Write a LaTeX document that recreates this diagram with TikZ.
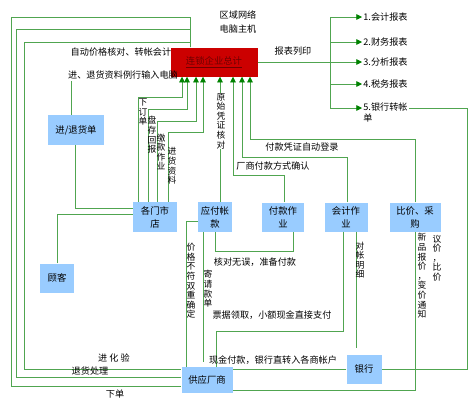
\documentclass[tikz,border=0pt]{standalone}
\usepackage{fontspec}
\setmainfont{Noto Sans CJK SC}
\usetikzlibrary{arrows.meta}

\definecolor{linegreen}{RGB}{80,165,80}
\definecolor{tipgreen}{RGB}{0,130,0}
\definecolor{boxblue}{RGB}{153,204,255}
\definecolor{hqred}{RGB}{204,0,0}
\definecolor{hqtext}{RGB}{110,0,0}

\begin{document}
\begin{tikzpicture}[x=0.3mm, y=-0.3mm,
  font=\fontsize{7.8}{9.5}\selectfont,
  line/.style={draw=linegreen, line width=0.6pt},
  arr/.style={line, -{Triangle[length=1.7mm, width=1.7mm, color=tipgreen]}},
  box/.style={fill=boxblue, align=center, inner sep=1pt, font=\fontsize{8}{11}\selectfont},
  lab/.style={inner sep=1pt},
  vlab/.style={align=center, inner sep=0.5pt, font=\fontsize{7.5}{8.2}\selectfont},
  rep/.style={anchor=west, inner sep=1pt}]
\useasboundingbox (0,0) rectangle (474,402);

% main computer
\node[fill=hqred, text=hqtext, minimum width=26.1mm, minimum height=8.7mm, font=\fontsize{8}{10}\selectfont] (hq) at (214,62) {\underline{连锁企业总计}};
\node[align=left, inner sep=0pt, font=\fontsize{7.8}{12}\selectfont] (net) at (238,22) {区域网络\\电脑主机};

% boxes
\node[box, minimum width=16.8mm, minimum height=9mm] (order) at (76,130) {进/退货单};
\node[box, minimum width=13.2mm, minimum height=9mm] (stores) at (155,217) {各门市\\店};
\node[box, minimum width=10.2mm, minimum height=8.7mm] (customer) at (57,278) {顾客};
\node[box, minimum width=10.2mm, minimum height=9mm] (payable) at (215,217) {应付帐\\款};
\node[box, minimum width=12.6mm, minimum height=8.7mm] (paywork) at (283,217) {付款作\\业};
\node[box, minimum width=12.9mm, minimum height=8.7mm] (acct) at (346,217) {会计作\\业};
\node[box, minimum width=15.3mm, minimum height=8.7mm] (buy) at (415,217) {比价、采\\购};
\node[box, minimum width=15.3mm, minimum height=7.8mm] (supplier) at (207,380) {供应厂商};
\node[box, minimum width=10.5mm, minimum height=8.7mm] (bank) at (364,369) {银行};

% reports
\node[rep] (r1) at (362,17) {1.会计报表};
\node[rep] (r2) at (362,42) {2.财务报表};
\node[rep] (r3) at (362,62) {3.分析报表};
\node[rep] (r4) at (362,84) {4.税务报表};
\node[rep, anchor=north west, align=left] (r5) at (362,101) {5.银行转帐\\单};
\node[lab] (print) at (293,51) {报表列印};
\coordinate (bt) at (330,17);
\coordinate (bb) at (330,108);
\draw[line] (bt) -- (bb);
\draw[arr] (hq.east) -- (r3.west);
\foreach \r in {r1,r2,r4}
  \draw[arr] (bt |- \r.west) -- (\r.west);
\draw[arr] (bb) -- (bb -| r5.west);
\draw[line] (r5.east |- bb) -- (467,108) |- (bank.east);

% left loops
\coordinate (c190) at (190,0);
\draw[line] (hq.north -| c190) |- (24,42) |- ([yshift=3.3mm]supplier.west);
\draw[line] (hq.north -| c190) |- (16,29) |- ([yshift=0.9mm]supplier.west);
\draw[line] (hq.north -| c190) |- (11,17) |- ([yshift=-1.8mm]supplier.west);
\node[lab] (auto) at (121,52) {自动价格核对、转帐会计};
\node[lab] (input) at (123,75) {进、退货资料例行输入电脑};
\node[lab] (check) at (114,358) {进 化 验};
\node[lab] (ret) at (90,371) {退货处理};
\node[lab] (place) at (115,394) {下单};

% order form, stores, customer
\draw[line] (71,0 |- order.north) -- (71,0 |- input.south);
\draw[line] (75,0 |- order.south) |- ([yshift=2.7mm]stores.west);
\draw[line] (customer.north) |- ([yshift=0.9mm]stores.west);

% inputs to main computer
\draw[arr] (138,0 |- stores.north) |- (182,97) -- (182,0 |- hq.south);
\draw[arr] (148,0 |- stores.north) |- (187,109) -- (187,0 |- hq.south);
\draw[arr] (157,0 |- stores.north) |- (196,121) -- (196,0 |- hq.south);
\draw[arr] (168,0 |- stores.north) |- (203,132) -- (203,0 |- hq.south);
\draw[arr] (220,0 |- payable.north) -- (220,0 |- hq.south);
\draw[arr] (284,0 |- paywork.north) |- (233,175) -- (233,0 |- hq.south);
\draw[arr] (347,0 |- acct.north) |- (242,157) -- (242,0 |- hq.south);
\draw[arr] (buy.north) |- (250,139) -- (250,0 |- hq.south);
\node[vlab] (l1) at (143,112) {下\\订\\单};
\node[vlab] (l2) at (152,135) {盘\\存\\回\\报};
\node[vlab] (l3) at (161,152) {缴\\款\\作\\业};
\node[vlab] (l4) at (172,166) {进\\货\\资\\料};
\node[vlab, fill=white] (l5) at (221,121) {原\\始\\凭\\证\\核\\对};
\node[lab] (l6) at (273,166) {厂商付款方式确认};
\node[lab] (l7) at (302,147) {付款凭证自动登录};

% payables and payments
\draw[line] (payable.south) |- (293,251) -- (293,0 |- paywork.south);
\node[lab] (ok) at (255,262) {核对无误，准备付款};
\draw[line] ([yshift=-1.2mm]payable.west) -| (186,0 |- supplier.north);
\node[vlab] (l8) at (191,281) {价\\格\\不\\符\\双\\重\\确\\定};
\draw[line, shorten >=1.5mm] (203,0 |- payable.south) -- (203,0 |- supplier.north);
\node[vlab] (l9) at (208,289) {寄\\请\\款\\单};
\draw[line] (343,0 |- acct.south) |- (216,331) -- (216,0 |- supplier.north);
\node[lab] (cash) at (272,315) {票据领取，小额现金直接支付};
\draw[line, shorten >=2mm] (356,0 |- acct.south) -- (356,0 |- bank.north);
\node[vlab] (l10) at (360,260) {对\\帐\\明\\细};
\draw[line] (bank.west) -- (bank.west -| supplier.east);
\node[lab] (trans) at (273,360) {现金付款，银行直转入各商帐户};
\draw[line] (buy.south) |- ([yshift=-3mm]supplier.east);
\node[vlab] (l11) at (422,276) {新\\品\\报\\价\\，\\变\\价\\通\\知};
\node[vlab] (l12) at (437,258) {议\\价\\，\\比\\价};
\end{tikzpicture}
\end{document}
